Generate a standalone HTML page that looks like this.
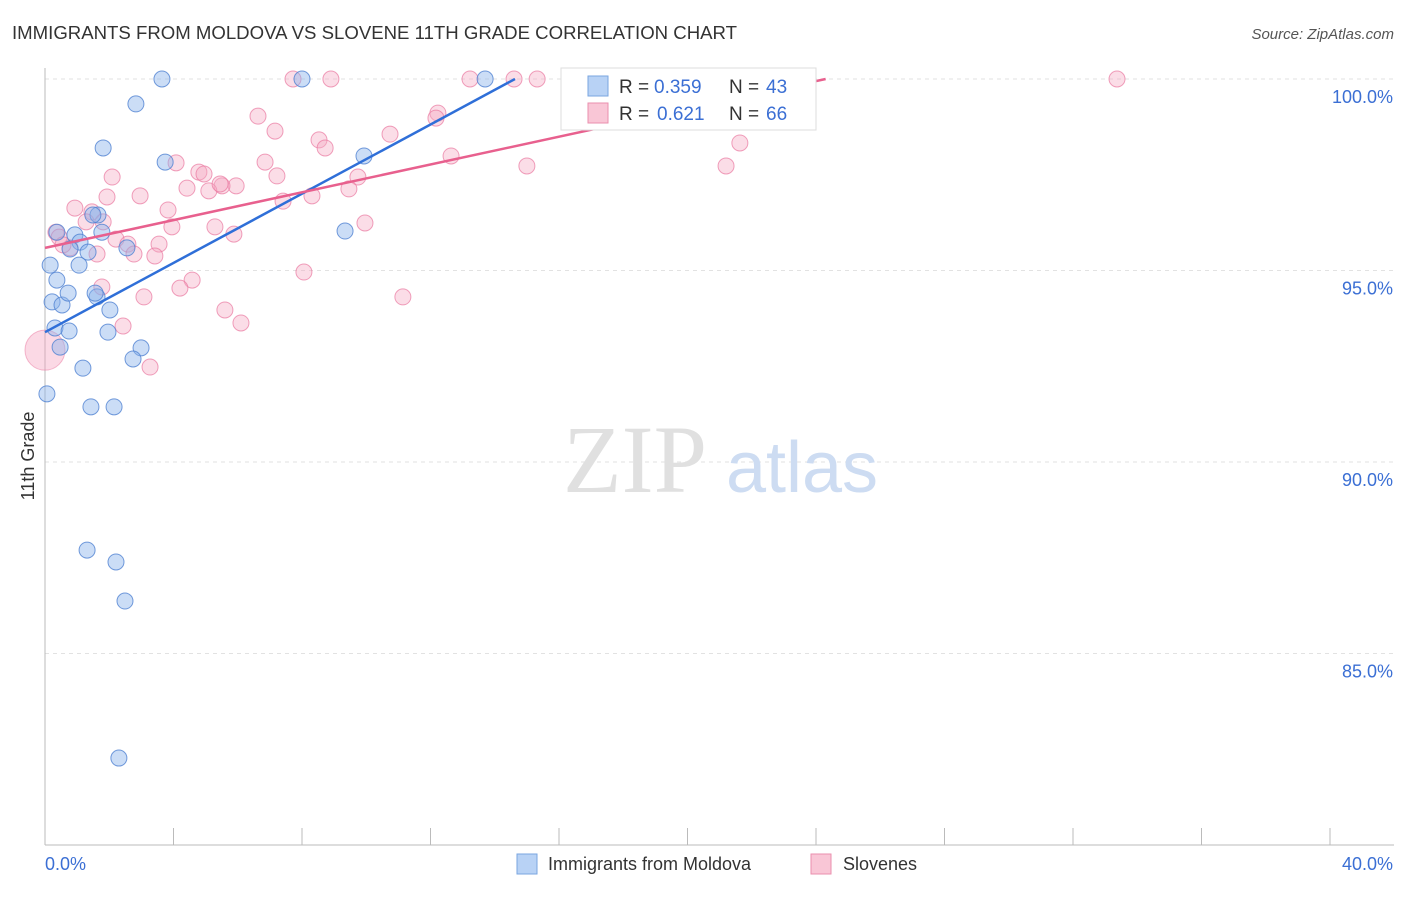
<!DOCTYPE html>
<html><head><meta charset="utf-8"><style>
body{margin:0;background:#fff;font-family:"Liberation Sans",sans-serif;}
</style></head><body>
<svg width="1406" height="892" xmlns="http://www.w3.org/2000/svg">
<text x="12" y="39" font-size="18" fill="#333" textLength="725" lengthAdjust="spacingAndGlyphs">IMMIGRANTS FROM MOLDOVA VS SLOVENE 11TH GRADE CORRELATION CHART</text>
<text x="1394" y="39" font-size="15" fill="#555" font-style="italic" text-anchor="end">Source: ZipAtlas.com</text>
<g id="grid"></g>
<text x="635" y="492" font-size="96" fill="#e0e0e0" font-family="Liberation Serif" text-anchor="middle">ZIP</text>
<text x="802" y="492" font-size="72" fill="#cddcf2" text-anchor="middle">atlas</text>
<g id="pts"></g>
<text transform="translate(34,456) rotate(-90)" font-size="18" fill="#333" text-anchor="middle">11th Grade</text>
<g>
<rect x="561" y="68" width="255" height="62" fill="#fff" stroke="#ddd"/>
<rect x="588" y="76" width="20" height="20" fill="#b8d2f5" stroke="#7aa6e0"/>
<rect x="588" y="103" width="20" height="20" fill="#f9c6d6" stroke="#ea8fae"/>
<text x="619" y="93" font-size="19" fill="#333">R =</text>
<text x="654" y="93" font-size="19" fill="#3b6fd4">0.359</text>
<text x="729" y="93" font-size="19" fill="#333">N =</text>
<text x="766" y="93" font-size="19" fill="#3b6fd4">43</text>
<text x="619" y="120" font-size="19" fill="#333">R =</text>
<text x="657" y="120" font-size="19" fill="#3b6fd4">0.621</text>
<text x="729" y="120" font-size="19" fill="#333">N =</text>
<text x="766" y="120" font-size="19" fill="#3b6fd4">66</text>
</g>
<g>
<rect x="517" y="854" width="20" height="20" fill="#b8d2f5" stroke="#7aa6e0"/>
<text x="548" y="870" font-size="18" fill="#333">Immigrants from Moldova</text>
<rect x="811" y="854" width="20" height="20" fill="#f9c6d6" stroke="#ea8fae"/>
<text x="843" y="870" font-size="18" fill="#333">Slovenes</text>
</g>
</svg>
<script>
const xTicks=[0,40];
const yTicks=[85,90,95,100];
const blueX=[3.64,8.0,13.7,2.83,1.81,3.74,9.93,1.65,1.49,0.37,0.93,1.77,1.09,0.78,1.34,2.55,9.34,0.16,0.37,1.06,0.22,0.53,0.72,1.62,1.56,2.02,0.31,0.75,1.96,0.47,2.99,2.74,1.18,0.06,1.43,2.15,1.31,2.21,2.49,2.3];
const blueY=[100,100,100,99.35,98.2,97.83,97.99,96.45,96.45,96.0,95.93,96.0,95.74,95.56,95.48,95.59,96.03,95.14,94.75,95.14,94.18,94.1,94.41,94.31,94.41,93.97,93.5,93.42,93.39,93.0,92.98,92.69,92.45,91.78,91.44,91.44,87.7,87.39,86.37,82.27];
const pinkX=[7.72,8.9,13.23,14.6,15.32,33.37,6.63,12.23,12.17,7.16,10.74,8.53,8.72,21.63,12.64,15.0,21.2,4.08,6.85,2.09,4.79,4.95,7.22,9.74,5.95,5.51,4.42,5.1,9.46,1.93,2.96,8.31,7.41,0.93,1.46,3.83,1.28,5.29,9.96,3.95,0.34,5.88,2.21,3.55,2.58,0.78,1.62,3.42,2.77,0.44,8.06,4.58,4.2,1.77,3.08,11.14,5.6,6.1,2.43,3.27,1.81,0.56,5.45];
const pinkY=[100,100,100,100,100,100,99.03,99.11,98.98,98.64,98.56,98.41,98.2,98.33,97.99,97.73,97.73,97.81,97.83,97.44,97.57,97.52,97.47,97.44,97.21,97.21,97.15,97.08,97.13,96.92,96.95,96.95,96.81,96.63,96.53,96.58,96.27,96.14,96.24,96.14,96.0,95.95,95.82,95.69,95.69,95.59,95.43,95.38,95.43,95.87,94.96,94.75,94.54,94.57,94.31,94.31,93.97,93.63,93.55,92.48,96.27,95.67,97.26];
const bigPink=[0,92.92];
const blueTrend=[[0,93.39],[14.63,100]];
const pinkTrend=[[0,95.59],[24.3,100]];
const NS="http://www.w3.org/2000/svg";
const sx=v=>45+v/40*1285;
const sy=v=>79+(100-v)*38.3;
function mk(t,a,p){const e=document.createElementNS(NS,t);for(const k in a)e.setAttribute(k,a[k]);p.appendChild(e);return e;}
const g=document.getElementById('grid');
yTicks.forEach(t=>{
 const l=mk('line',{x1:45,x2:1394,y1:sy(t),y2:sy(t),stroke:'#e2e2e2','stroke-dasharray':'4,4'},g);
 
 
 const tx=mk('text',{x:1393,y:sy(t)+24,'font-size':18,fill:'#3b6fd4','text-anchor':'end'},g);
 tx.textContent=t.toFixed(1)+'%';
 
 
});
mk('line',{x1:45,x2:45,y1:68,y2:845,stroke:'#bbb'},g);
mk('line',{x1:45,x2:1394,y1:845,y2:845,stroke:'#bbb'},g);
for(let i=0;i<=10;i++){const x=sx(i*4);const t=mk('line',{x1:x,x2:x,y1:828,y2:845,stroke:'#bbb'},g);
 
 }
xTicks.forEach((t,i)=>{const tx=mk('text',{x:i?1393:45,y:870,'font-size':18,fill:'#3b6fd4','text-anchor':i?'end':'start'},g);
 tx.textContent=t.toFixed(1)+'%';
 
 });
const p=document.getElementById('pts');
const bc=mk('circle',{cx:sx(bigPink[0]),cy:sy(bigPink[1]),r:20,fill:'rgba(244,160,190,0.4)',stroke:'rgba(234,120,160,0.5)'},p);


pinkX.forEach((x,i)=>{const c=mk('circle',{cx:sx(x),cy:sy(pinkY[i]),r:8,fill:'rgba(246,170,196,0.4)',stroke:'rgba(234,120,160,0.7)'},p);
 
 });
blueX.forEach((x,i)=>{const c=mk('circle',{cx:sx(x),cy:sy(blueY[i]),r:8,fill:'rgba(140,180,235,0.45)',stroke:'rgba(80,130,210,0.8)'},p);
 
 });
const bl=mk('line',{x1:sx(blueTrend[0][0]),y1:sy(blueTrend[0][1]),x2:sx(blueTrend[1][0]),y2:sy(blueTrend[1][1]),stroke:'#2f6fd8','stroke-width':2.5},p);


const pl=mk('line',{x1:sx(pinkTrend[0][0]),y1:sy(pinkTrend[0][1]),x2:sx(pinkTrend[1][0]),y2:sy(pinkTrend[1][1]),stroke:'#e8608e','stroke-width':2.5},p);


</script>
</body></html>
